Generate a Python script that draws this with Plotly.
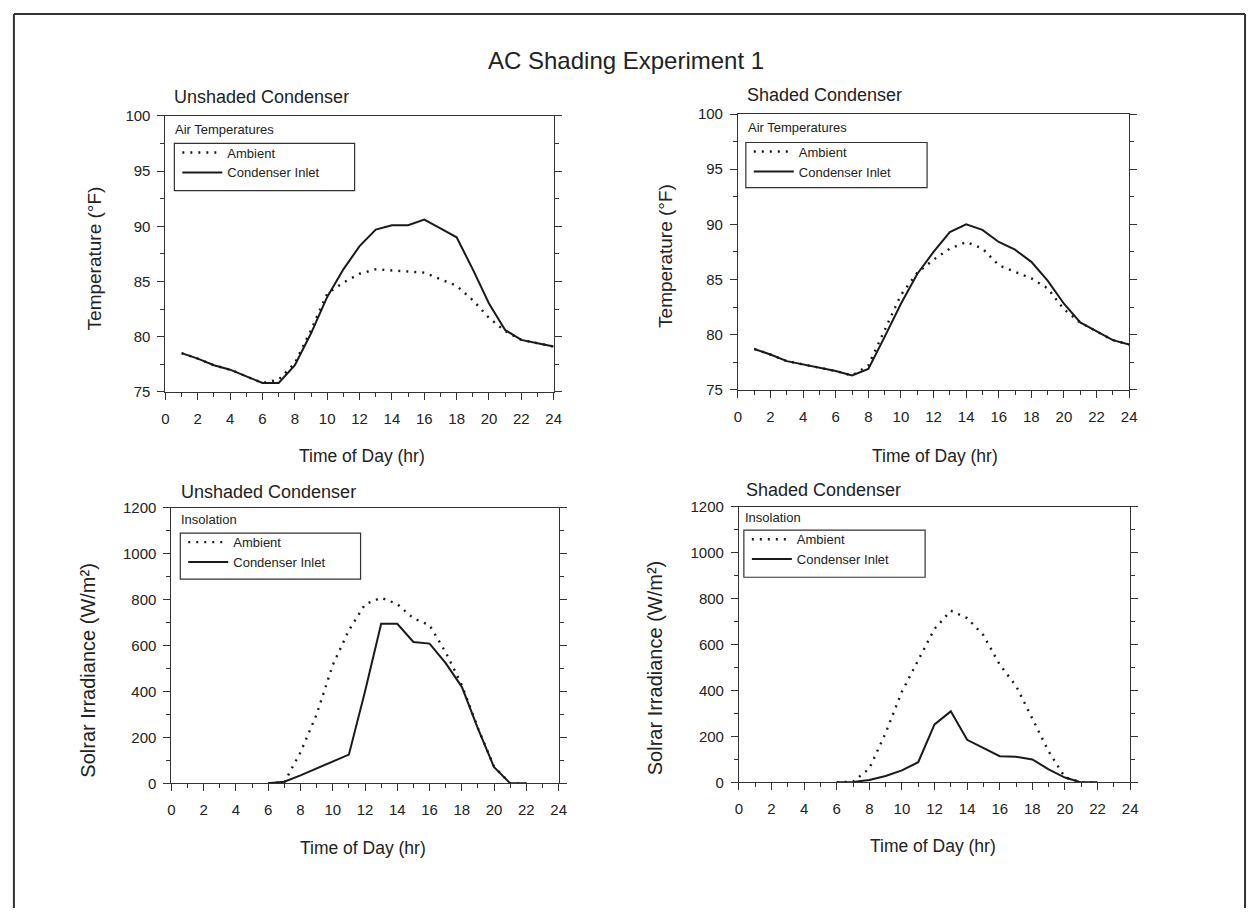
import plotly.graph_objects as go

# ---------------- data ----------------
temp_hours = list(range(1, 25))
unshaded_temp_ambient = [78.5, 78.0, 77.4, 77.0, 76.4, 75.8, 76.1, 77.6, 80.6, 83.9, 84.9, 85.7,
                         86.1, 86.0, 85.9, 85.8, 85.2, 84.6, 83.3, 81.7, 80.5, 79.7, 79.4, 79.1]
unshaded_temp_inlet = [78.5, 78.0, 77.4, 77.0, 76.4, 75.8, 75.8, 77.4, 80.3, 83.6, 86.1, 88.2,
                       89.7, 90.1, 90.1, 90.6, 89.8, 89.0, 86.1, 83.0, 80.6, 79.7, 79.4, 79.1]
shaded_temp_ambient = [78.7, 78.2, 77.6, 77.3, 77.0, 76.7, 76.3, 77.2, 80.4, 83.6, 85.6, 86.8,
                       87.8, 88.4, 87.8, 86.3, 85.7, 85.1, 84.2, 82.3, 81.1, 80.3, 79.5, 79.1]
shaded_temp_inlet = [78.7, 78.2, 77.6, 77.3, 77.0, 76.7, 76.3, 76.9, 79.8, 82.8, 85.5, 87.5,
                     89.3, 90.0, 89.5, 88.4, 87.7, 86.6, 84.9, 82.8, 81.1, 80.3, 79.5, 79.1]

sun_hours = list(range(6, 23))
unshaded_sun_ambient = [0, 5, 135, 300, 515, 666, 779, 808, 780, 718, 688, 570, 428, 240, 72, 0, 0]
unshaded_sun_inlet = [0, 7, 35, 65, 95, 125, 400, 694, 694, 615, 608, 523, 420, 238, 70, 0, 0]
shaded_sun_ambient = [0, 3, 60, 215, 395, 535, 668, 747, 715, 640, 512, 420, 280, 135, 22, 0, 0]
shaded_sun_inlet = [0, 2, 10, 28, 52, 88, 252, 309, 185, 149, 114, 111, 100, 57, 21, 0, 0]

x_ticks = list(range(0, 25, 2))
temp_ticks = [75, 80, 85, 90, 95, 100]
sun_ticks = [0, 200, 400, 600, 800, 1000, 1200]

# ---------------- layout helpers ----------------
W, H = 1256, 916
FONT = "Liberation Sans, Arial, Helvetica, sans-serif"
INK = "#222222"


def px(x):
    return x / W


def py(y):
    return 1 - y / H


def dom_x(a, b):
    return [px(a), px(b)]


def dom_y(top, bottom):
    return [py(bottom), py(top)]


panels = [
    ((163, 555), (109, 390)),
    ((741, 1136), (107, 388)),
    ((169, 560), (508, 789)),
    ((742, 1137), (507, 788)),
]

fig = go.Figure()

series = [
    (temp_hours, unshaded_temp_ambient, unshaded_temp_inlet, 1),
    (temp_hours, shaded_temp_ambient, shaded_temp_inlet, 2),
    (sun_hours, unshaded_sun_ambient, unshaded_sun_inlet, 3),
    (sun_hours, shaded_sun_ambient, shaded_sun_inlet, 4),
]

for hrs, amb, inl, k in series:
    sfx = "" if k == 1 else str(k)
    lg = "legend" if k == 1 else f"legend{k}"
    fig.add_trace(go.Scatter(x=hrs, y=amb, mode="lines", name="Ambient",
                             line=dict(color="#1a1a1a", width=2.4, dash="2px,6px"),
                             xaxis="x" + sfx, yaxis="y" + sfx, legend=lg))
    fig.add_trace(go.Scatter(x=hrs, y=inl, mode="lines", name="Condenser Inlet",
                             line=dict(color="#1a1a1a", width=2),
                             xaxis="x" + sfx, yaxis="y" + sfx, legend=lg))

layout = dict(
    width=W, height=H,
    margin=dict(l=0, r=0, t=0, b=0),
    paper_bgcolor="white", plot_bgcolor="white",
    font=dict(family=FONT, color=INK, size=15),
    showlegend=True,
)

for i, ((xa, xb), (yt, yb)) in enumerate(panels):
    k = i + 1
    sfx = "" if k == 1 else str(k)
    is_temp = k <= 2
    layout["xaxis" + sfx] = dict(
        domain=dom_x(xa, xb), anchor="y" + sfx, range=[0, 24],
        tickvals=x_ticks, ticks="outside", ticklen=7, tickwidth=1, tickcolor="#333",
        showline=True, linecolor="#333", linewidth=1, mirror=True,
        showgrid=False, zeroline=False,
        minor=dict(ticks="outside", ticklen=4, dtick=1, tick0=0, tickcolor="#333", showgrid=False),
        tickfont=dict(size=15, family=FONT, color=INK), ticklabelstandoff=6,
    )
    layout["yaxis" + sfx] = dict(
        domain=dom_y(yt, yb), anchor="x" + sfx,
        range=[75, 100] if is_temp else [0, 1200],
        tickvals=temp_ticks if is_temp else sun_ticks,
        ticks="outside", ticklen=7, tickwidth=1, tickcolor="#333",
        showline=True, linecolor="#333", linewidth=1, mirror="ticks",
        showgrid=False, zeroline=False,
        minor=dict(ticks="outside", ticklen=4, dtick=2.5 if is_temp else 100,
                   tick0=0, tickcolor="#333", showgrid=False),
        tickfont=dict(size=15, family=FONT, color=INK), ticklabelstandoff=4,
    )

# legends (inside panels) and their frames
legend_boxes = [
    (172, 137, 354, 185),
    (749, 136, 932, 182),
    (178, 534, 360, 581),
    (747, 531, 930, 579),
]
shapes = []
for i, (x0, y0, x1, y1) in enumerate(legend_boxes):
    k = i + 1
    name = "legend" if k == 1 else f"legend{k}"
    layout[name] = dict(
        x=px(x0 + 3), y=py(y0 - 6), xanchor="left", yanchor="top",
        bgcolor="rgba(0,0,0,0)", borderwidth=0,
        font=dict(size=13, family=FONT, color=INK),
        tracegroupgap=0, itemwidth=40,
    )
    shapes.append(dict(type="rect", xref="paper", yref="paper",
                       x0=px(x0), x1=px(x1), y0=py(y1), y1=py(y0),
                       line=dict(color="#333", width=1.2)))

# page frame
shapes += [
    dict(type="line", xref="paper", yref="paper", x0=px(10), x1=px(10), y0=0, y1=py(5),
         line=dict(color="#333", width=2)),
    dict(type="line", xref="paper", yref="paper", x0=px(10), x1=px(1253), y0=py(5), y1=py(5),
         line=dict(color="#333", width=2)),
    dict(type="line", xref="paper", yref="paper", x0=px(1253), x1=px(1253), y0=0, y1=py(5),
         line=dict(color="#333", width=2)),
]
layout["shapes"] = shapes


def ann(text, x, y, size, xanchor="center", angle=0):
    return dict(text=text, x=px(x), y=py(y), xref="paper", yref="paper",
                xanchor=xanchor, yanchor="middle", showarrow=False, textangle=angle,
                font=dict(size=size, family=FONT, color=INK))


annotations = [
    ann("AC Shading Experiment 1", 628, 52, 24),
    ann("Unshaded Condenser", 170, 90, 18, "left"),
    ann("Shaded Condenser", 748, 88, 18, "left"),
    ann("Unshaded Condenser", 177, 492, 18, "left"),
    ann("Shaded Condenser", 747, 490, 18, "left"),
    ann("Air Temperatures", 171, 123, 13, "left"),
    ann("Air Temperatures", 749, 121, 13, "left"),
    ann("Insolation", 177, 520, 13, "left"),
    ann("Insolation", 746, 518, 13, "left"),
    ann("Time of Day (hr)", 361, 455, 17.5),
    ann("Time of Day (hr)", 940, 455, 17.5),
    ann("Time of Day (hr)", 362, 855, 17.5),
    ann("Time of Day (hr)", 938, 853, 17.5),
    ann("Temperature (°F)", 91, 254, 19, angle=-90),
    ann("Temperature (°F)", 668, 252, 19, angle=-90),
    ann("Solrar Irradiance (W/m²)", 85, 674, 20, angle=-90),
    ann("Solrar Irradiance (W/m²)", 657, 672, 20, angle=-90),
]
layout["annotations"] = annotations

fig.update_layout(**layout)
fig.write_html(
    "out.html",
    config={"displayModeBar": False},
    post_script="document.body.style.margin='0';document.body.style.overflow='hidden';",
)
